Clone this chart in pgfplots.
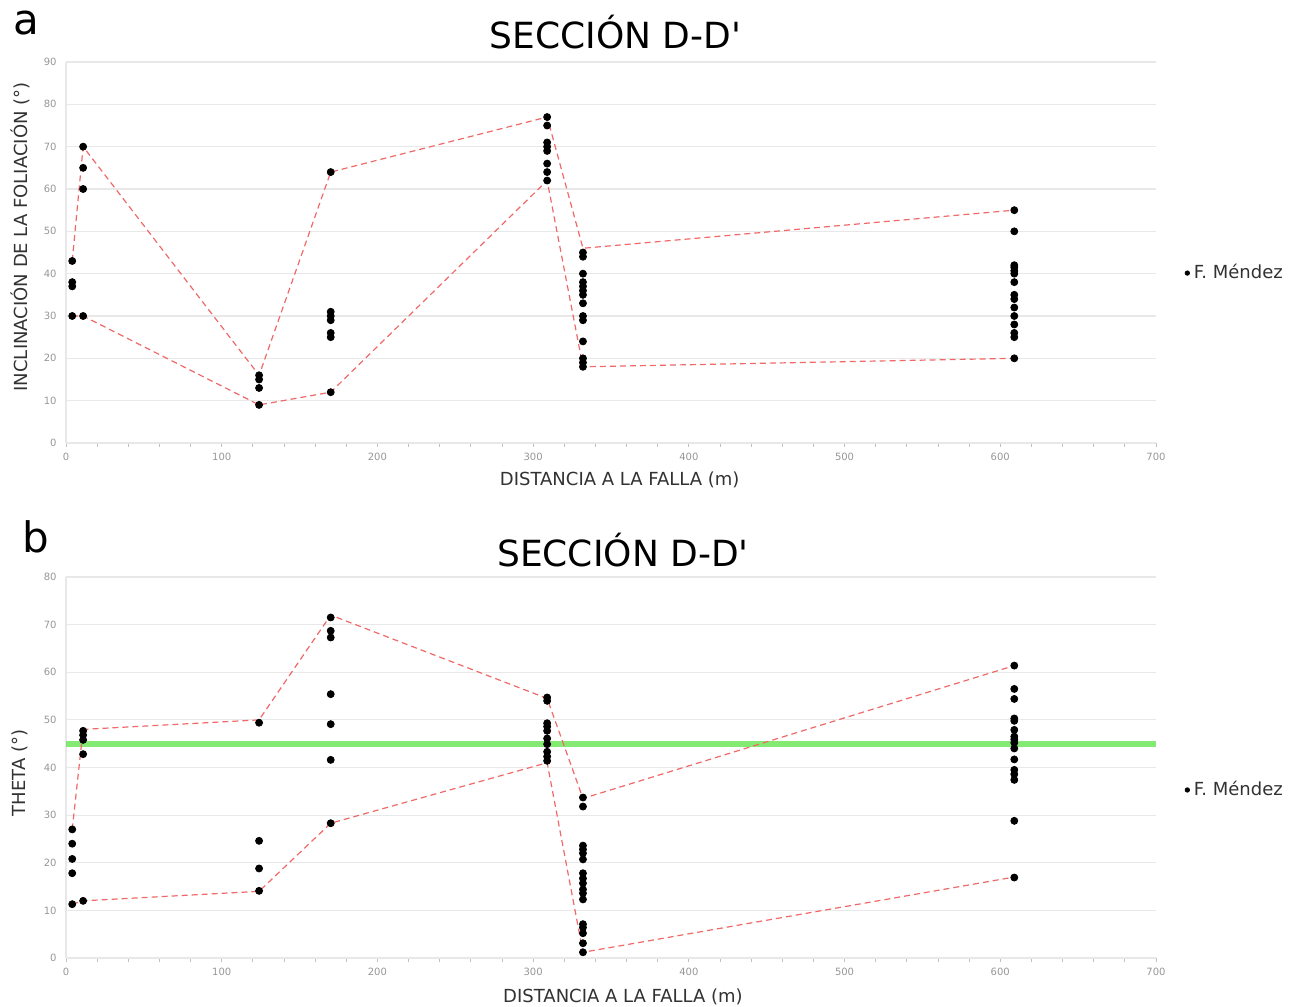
\documentclass[border=0pt]{standalone}
\usepackage{fontspec}
\setmainfont{DejaVu Sans}
\newfontfamily\titlefont{DejaVu Sans}
\usepackage{pgfplots}
\pgfplotsset{compat=1.18}
\definecolor{redline}{RGB}{240,105,105}
\definecolor{greenline}{RGB}{110,230,90}
\definecolor{gridc}{RGB}{232,232,232}
\definecolor{tickc}{RGB}{150,150,150}
\definecolor{labc}{RGB}{50,50,50}
\pgfplotsset{
  common/.style={
    scale only axis, width=545pt, height=190.5pt, anchor=south west,
    xmin=0, xmax=700, xtick={0,100,...,700}, minor x tick num=4,
    axis x line*=bottom, axis y line*=left,
    axis line style={gridc, line width=0.6pt},
    ymajorgrids, grid style={gridc, line width=0.6pt},
    tick align=outside, major tick length=2pt, minor tick length=2pt,
    x tick style={tickc!60, line width=0.4pt}, y tick style={draw=none},
    ticklabel style={font=\fontsize{5}{6}\selectfont, text=tickc},
    /pgf/number format/assume math mode=true,
    yticklabel style={inner sep=0pt, xshift=-2.5pt},
    xticklabel style={inner sep=0pt, yshift=-3pt},
    label style={font=\fontsize{9}{11}\selectfont, text=labc},
    title style={font=\titlefont\fontsize{18}{20}\selectfont, anchor=center},
    legend style={draw=none, fill=none, inner sep=0pt, anchor=west,
      font=\fontsize{9}{11}\selectfont, text=labc},
    legend image code/.code={\fill[black] (0.12cm,0cm) circle (1.1pt);},
    legend cell align=left,
  },
  pts/.style={only marks, mark=*, mark size=1.75pt, mark options={black, fill=black}},
  env/.style={redline, line width=0.6pt, dash pattern=on 3pt off 2pt, forget plot},
}
\begin{document}
\begin{tikzpicture}
\useasboundingbox (0,0) rectangle (651.5pt,503.5pt);
\begin{axis}[common, at={(33pt,282pt)},
  ymin=0, ymax=90, ytick={0,10,...,90},
  title={SECCIÓN D-D'}, title style={at={(0.504,1.047)}},
  xlabel={DISTANCIA A LA FALLA (m)}, xlabel style={at={(0.508,-0.097)}, anchor=center},
  ylabel={INCLINACIÓN DE LA FOLIACIÓN (°)}, ylabel style={at={(-0.0422,0.541)}, anchor=center, rotate=0},
  legend style={at={(1.026,0.446)}},
]
\addplot[pts] coordinates {
(4,43)(4,38)(4,37)(4,30)
(11,70)(11,65)(11,60)(11,30)
(124,16)(124,15)(124,13)(124,9)
(170,64)(170,31)(170,30)(170,29)(170,26)(170,25)(170,12)
(309,77)(309,75)(309,71)(309,70)(309,69)(309,66)(309,64)(309,62)
(332,45)(332,44)(332,40)(332,38)(332,37)(332,36)(332,35)(332,33)(332,30)(332,29)(332,24)(332,20)(332,19)(332,18)
(609,55)(609,50)(609,42)(609,41.5)(609,40.7)(609,40)(609,38)(609,35)(609,34)(609,32)(609,30)(609,28)(609,26)(609,25)(609,20)
};
\addlegendentry{F. Méndez}
\addplot[env] coordinates {(4,43)(11,70)(124,16)(170,64)(309,77)(332,46)(609,55)};
\addplot[env] coordinates {(4,30)(11,30)(124,9)(170,12)(309,62)(332,18)(609,20)};
\end{axis}
\begin{axis}[common, at={(33pt,24.5pt)},
  ymin=0, ymax=80, ytick={0,10,...,80},
  title={SECCIÓN D-D'}, title style={at={(0.511,1.039)}},
  xlabel={DISTANCIA A LA FALLA (m)}, xlabel style={at={(0.511,-0.102)}, anchor=center},
  ylabel={THETA (°)}, ylabel style={at={(-0.0422,0.486)}, anchor=center, rotate=0},
  legend style={at={(1.026,0.441)}},
]
\addplot[pts] coordinates {
(4,27)(4,24)(4,20.8)(4,17.8)(4,11.3)
(11,47.7)(11,46.8)(11,45.8)(11,42.8)(11,12)
(124,49.4)(124,24.6)(124,18.8)(124,14.1)
(170,71.5)(170,68.7)(170,67.3)(170,55.4)(170,49.1)(170,41.6)(170,28.3)
(309,54.7)(309,54)(309,49.3)(309,48.6)(309,47.7)(309,46.1)(309,44.9)(309,43.3)(309,42.3)(309,41.4)
(332,33.7)(332,31.8)(332,23.6)(332,22.8)(332,22)(332,20.7)(332,17.8)(332,16.7)(332,15.7)(332,14.4)(332,13.6)(332,12.3)(332,7.1)(332,6.4)(332,5.2)(332,3.1)(332,1.2)
(609,61.4)(609,56.5)(609,54.4)(609,50.3)(609,49.8)(609,47.9)(609,46.5)(609,45.9)(609,45.2)(609,44)(609,41.7)(609,39.5)(609,38.6)(609,37.4)(609,28.8)(609,16.9)
};
\addlegendentry{F. Méndez}
\addplot[greenline, line width=3pt, opacity=0.85, forget plot] coordinates {(0,45)(700,45)};
\addplot[env] coordinates {(4,27)(11,48)(124,50)(170,72)(309,54.5)(332,33.5)(609,61.4)};
\addplot[env] coordinates {(4,11.3)(11,12)(124,14)(170,28.3)(309,41)(332,1.2)(609,17)};
\end{axis}
\node[font=\fontsize{21}{24}\selectfont, inner sep=0pt] at (13pt,492pt) {a};
\node[font=\fontsize{21}{24}\selectfont, inner sep=0pt] at (18pt,235pt) {b};
\end{tikzpicture}
\end{document}
